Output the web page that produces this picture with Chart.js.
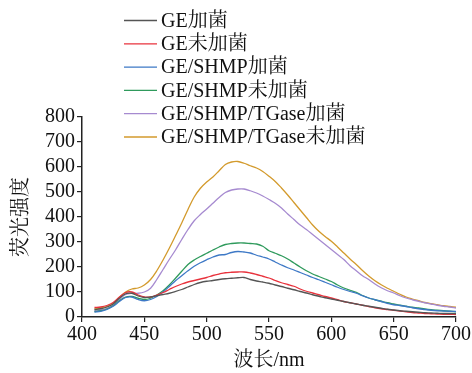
<!DOCTYPE html>
<html>
<head>
<meta charset="utf-8">
<script src="https://cdn.jsdelivr.net/npm/chart.js@4.4.1/dist/chart.umd.min.js"></script>
<style>
  html, body { margin: 0; padding: 0; background: #fff; }
  #wrap { width: 472px; height: 373px; }
</style>
</head>
<body>
<div id="wrap"><canvas id="spectrumChart" width="472" height="373"></canvas></div>
<script>
const wavelengths = [410, 415, 420, 425, 430, 435, 440, 445, 450, 455, 460, 465, 470, 475, 480, 485, 490, 495, 500, 505,
    510, 515, 520, 525, 530, 535, 540, 545, 550, 555, 560, 565, 570, 575, 580, 585, 590, 595, 600, 605,
    610, 615, 620, 625, 630, 635, 640, 645, 650, 655, 660, 665, 670, 675, 680, 685, 690, 695, 700];

const geInoculated = [30, 33, 40, 52, 75, 93, 95, 84, 78, 80, 85, 90, 95, 102, 110, 120, 130, 138, 143, 146,
    150, 153, 155, 157, 158, 150, 144, 140, 135, 128, 122, 115, 109, 102, 96, 89, 83, 77, 72, 67,
    62, 57, 52, 47, 43, 39, 35, 31, 28, 25, 23, 21, 19, 17, 16, 15, 14, 14, 13];
const geControl = [38, 40, 46, 58, 80, 98, 100, 88, 80, 80, 88, 98, 110, 122, 132, 140, 146, 152, 158, 166,
    172, 177, 179, 180, 180, 176, 170, 163, 156, 146, 137, 130, 123, 112, 103, 96, 89, 82, 76, 69,
    62, 57, 52, 47, 42, 37, 33, 30, 27, 24, 21, 18, 16, 14, 13, 12, 11, 11, 10];
const shmpInoculated = [20, 23, 30, 43, 62, 78, 80, 70, 65, 70, 82, 100, 122, 145, 165, 185, 203, 217, 229, 240,
    248, 250, 258, 262, 260, 256, 247, 240, 232, 220, 208, 197, 188, 178, 168, 158, 149, 139, 129, 119,
    110, 102, 95, 85, 76, 69, 62, 55, 49, 46, 42, 37, 33, 30, 27, 25, 24, 23, 22];
const shmpControl = [22, 25, 32, 45, 65, 80, 82, 75, 70, 75, 88, 105, 128, 155, 183, 210, 228, 242, 255, 268,
    280, 290, 294, 296, 296, 294, 292, 283, 265, 255, 245, 232, 216, 200, 185, 172, 162, 152, 142, 128,
    116, 107, 99, 86, 76, 69, 63, 57, 52, 47, 43, 39, 36, 32, 29, 27, 25, 23, 21];
const tgaseInoculated = [25, 28, 35, 48, 70, 90, 95, 95, 100, 115, 150, 190, 230, 268, 310, 350, 385, 410, 432, 455,
    478, 498, 508, 512, 512, 505, 496, 484, 470, 455, 436, 412, 390, 368, 350, 330, 310, 290, 270, 250,
    230, 205, 185, 165, 150, 132, 117, 105, 96, 85, 76, 69, 63, 57, 52, 47, 43, 40, 36];
const tgaseControl = [32, 36, 42, 55, 78, 100, 112, 116, 128, 150, 185, 228, 275, 325, 376, 430, 480, 515, 540, 560,
    585, 610, 620, 622, 615, 605, 596, 582, 563, 542, 516, 488, 458, 428, 398, 368, 343, 322, 303, 280,
    256, 232, 210, 186, 164, 145, 129, 115, 103, 91, 80, 72, 65, 58, 53, 49, 45, 42, 39];

const seriesNames = ['GE加菌', 'GE未加菌', 'GE/SHMP加菌', 'GE/SHMP未加菌', 'GE/SHMP/TGase加菌', 'GE/SHMP/TGase未加菌'];
const seriesValues = [geInoculated, geControl, shmpInoculated, shmpControl, tgaseInoculated, tgaseControl];
const seriesColors = ['#555555', '#e8323c', '#3d78c6', '#2f9a5c', '#a68ad0', '#d39a2c'];

const xTicks = [400, 450, 500, 550, 600, 650, 700];
const yTicks = [0, 100, 200, 300, 400, 500, 600, 700, 800];

const FONT = '"Liberation Serif", "Times New Roman", "Noto Serif CJK SC", "Noto Sans CJK SC", serif';

// legend drawn by hand so it can sit partly over the plot like the original
const sideLegend = {
    id: 'sideLegend',
    afterDraw(chart) {
        const c = chart.ctx;
        c.save();
        c.font = '20px ' + FONT;
        c.textBaseline = 'middle';
        c.fillStyle = '#111';
        chart.data.datasets.forEach((ds, i) => {
            const y = 20.5 + i * 23.3;
            c.strokeStyle = ds.borderColor;
            c.lineWidth = 1.3;
            c.beginPath();
            c.moveTo(124, y);
            c.lineTo(157, y);
            c.stroke();
            c.fillText(ds.label, 161, y + 1);
        });
        c.restore();
    }
};

const ctx = document.getElementById('spectrumChart').getContext('2d');
const spectrumChart = new Chart(ctx, {
    type: 'line',
    data: {
        datasets: seriesNames.map((name, i) => ({
            label: name,
            data: wavelengths.map((w, j) => ({ x: w, y: seriesValues[i][j] })),
            borderColor: seriesColors[i],
            borderWidth: 1.3,
            pointRadius: 0,
            tension: 0.35,
            fill: false
        }))
    },
    options: {
        responsive: false,
        animation: false,
        layout: { padding: { top: 117, right: 13, left: 0, bottom: 0 } },
        plugins: {
            legend: { display: false },
            tooltip: { enabled: false }
        },
        scales: {
            x: {
                type: 'linear',
                min: 400,
                max: 700,
                afterBuildTicks: (scale) => { scale.ticks = xTicks.map(v => ({ value: v })); },
                afterFit: (scale) => { scale.height = 56; },
                ticks: { color: '#111', font: { family: FONT, size: 20 }, padding: 1, autoSkip: false, maxRotation: 0 },
                grid: { drawOnChartArea: false, drawTicks: true, tickLength: 5, color: '#222', lineWidth: 1.2 },
                border: { display: true, color: '#222', width: 1.5 },
                title: { display: true, text: '波长/nm', color: '#111', font: { family: FONT, size: 20 }, padding: { top: 0, bottom: 0 } }
            },
            y: {
                min: 0,
                max: 800,
                afterBuildTicks: (scale) => { scale.ticks = yTicks.map(v => ({ value: v })); },
                afterFit: (scale) => { scale.width = 82; },
                ticks: { color: '#111', font: { family: FONT, size: 20 }, padding: 2, autoSkip: false },
                grid: { drawOnChartArea: false, drawTicks: true, tickLength: 5, color: '#222', lineWidth: 1.2 },
                border: { display: true, color: '#222', width: 1.5 },
                title: { display: true, text: '荧光强度', color: '#111', font: { family: FONT, size: 20 }, padding: { top: 10, bottom: 0 } }
            }
        }
    },
    plugins: [sideLegend]
});
</script>
</body>
</html>
